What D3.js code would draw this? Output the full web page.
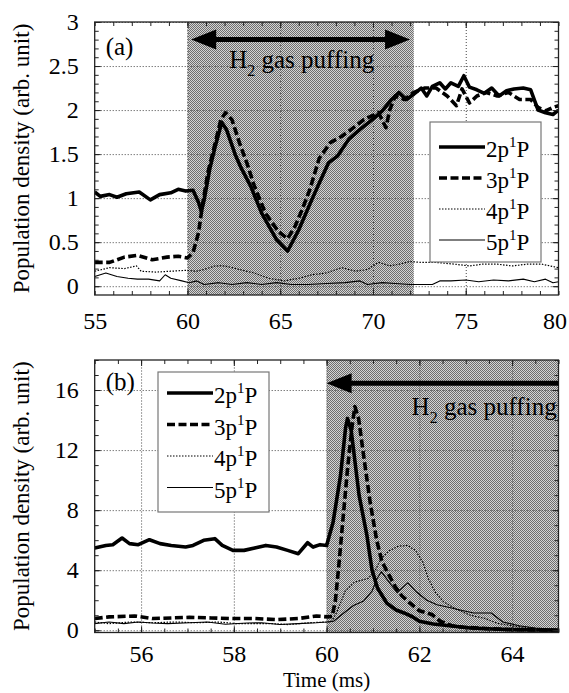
<!DOCTYPE html>
<html>
  <head>
    <meta charset="utf-8">
    <title>Population density</title>
    <script src="https://cdn.jsdelivr.net/npm/d3@7"></script>
    <style>
      body { margin: 0; background: #fff; }
      svg { display: block; }
      svg text { font-family: "Liberation Serif", "DejaVu Serif", "Times New Roman", serif; fill: #000; }
      .tick text { font-size: 24px; }
      .grid line { stroke: #444; stroke-dasharray: 1,2; stroke-width: 1; }
      .grid path, .ticks path { display: none; }
      .ticks line { stroke: #222; }
    </style>
  </head>
  <body>
    <svg id="chart" width="569" height="693"></svg>

    <script>
      // series names
      var levels = ["2p", "3p", "4p", "5p"];

      // panel (a): time (ms) and population density
      var aT2 = [55.0, 55.3, 55.8, 56.2, 56.7, 57.4, 58.0, 58.5, 59.1, 59.5, 59.9, 60.3, 60.6, 60.75, 60.9, 61.2, 61.5, 61.85, 62.1, 62.6, 62.9, 63.4, 64.0, 64.8, 65.4, 66.0, 66.7, 67.1, 67.6, 68.1, 68.7, 69.3, 69.9, 70.5, 71.0, 71.4, 71.8, 72.2, 72.6, 72.9, 73.2, 73.6, 73.9, 74.2, 74.6, 74.9, 75.2, 75.6, 76.0, 76.4, 76.8, 77.2, 77.6, 78.1, 78.5, 78.9, 79.3, 79.7, 80.0];
      var aV2 = [1.07, 1.02, 1.04, 1.01, 1.05, 1.07, 0.98, 1.04, 1.06, 1.10, 1.08, 1.09, 0.95, 0.85, 0.98, 1.33, 1.59, 1.86, 1.78, 1.48, 1.34, 1.14, 0.83, 0.53, 0.40, 0.64, 0.98, 1.17, 1.40, 1.48, 1.67, 1.78, 1.88, 1.99, 2.12, 2.20, 2.12, 2.18, 2.25, 2.16, 2.27, 2.31, 2.24, 2.31, 2.27, 2.39, 2.26, 2.23, 2.19, 2.25, 2.16, 2.22, 2.24, 2.25, 2.23, 2.00, 1.97, 1.95, 2.00];
      var aT3 = [55.0, 55.8, 56.6, 57.3, 58.1, 58.9, 59.5, 60.0, 60.3, 60.6, 60.8, 61.1, 61.5, 61.8, 62.05, 62.4, 62.8, 63.2, 63.6, 64.2, 64.9, 65.4, 65.8, 66.2, 66.6, 67.1, 67.7, 68.3, 68.7, 69.5, 70.3, 70.7, 70.9, 71.2, 71.7, 72.2, 72.8, 73.4, 74.0, 74.5, 74.8, 75.2, 75.6, 76.1, 76.7, 77.3, 77.9, 78.5, 78.9, 79.3, 79.7, 80.0];
      var aV3 = [0.27, 0.27, 0.33, 0.35, 0.30, 0.33, 0.34, 0.32, 0.38, 0.61, 0.91, 1.29, 1.63, 1.89, 1.97, 1.89, 1.63, 1.40, 1.14, 0.83, 0.62, 0.54, 0.68, 0.88, 1.10, 1.45, 1.63, 1.70, 1.76, 1.89, 1.97, 1.80, 2.00, 2.16, 2.12, 2.20, 2.25, 2.25, 2.16, 2.05, 2.24, 2.08, 2.16, 2.20, 2.16, 2.20, 2.12, 2.12, 2.03, 1.99, 2.03, 2.05];
      var aT4 = [55.0, 55.8, 56.6, 57.25, 57.5, 58.3, 59.1, 59.9, 60.5, 60.9, 61.5, 62.0, 62.8, 63.6, 64.4, 65.2, 66.0, 66.7, 67.5, 68.3, 69.1, 69.7, 70.3, 70.9, 71.4, 72.0, 72.6, 73.4, 74.4, 75.2, 75.9, 76.7, 77.5, 78.3, 79.1, 80.0];
      var aV4 = [0.17, 0.21, 0.20, 0.23, 0.17, 0.16, 0.17, 0.18, 0.17, 0.19, 0.23, 0.23, 0.19, 0.15, 0.09, 0.06, 0.09, 0.13, 0.15, 0.21, 0.17, 0.19, 0.27, 0.23, 0.25, 0.28, 0.27, 0.27, 0.25, 0.23, 0.25, 0.25, 0.23, 0.25, 0.25, 0.21];
      var aT5 = [55.0, 55.6, 56.2, 56.8, 57.3, 57.9, 58.5, 58.8, 59.1, 59.7, 60.1, 60.5, 60.9, 61.7, 62.4, 63.2, 64.0, 64.8, 65.6, 66.5, 67.5, 68.5, 69.3, 69.7, 70.5, 71.2, 72.0, 72.6, 73.2, 73.6, 74.2, 75.0, 75.7, 76.5, 77.3, 78.1, 78.7, 79.3, 79.7, 80.0];
      var aV5 = [0.11, 0.15, 0.11, 0.09, 0.08, 0.08, 0.06, 0.13, 0.09, 0.06, 0.04, 0.06, 0.02, 0.04, 0.02, 0.04, 0.02, 0.04, 0.02, 0.02, 0.03, 0.04, 0.06, 0.02, 0.04, 0.03, 0.02, 0.02, 0.02, 0.06, 0.06, 0.07, 0.05, 0.07, 0.06, 0.08, 0.05, 0.08, 0.04, 0.05];

      // panel (b)
      var bT2 = [55.0, 55.24, 55.39, 55.59, 55.75, 55.94, 56.18, 56.41, 56.65, 56.96, 57.12, 57.35, 57.59, 57.75, 57.98, 58.22, 58.45, 58.69, 58.92, 59.16, 59.39, 59.59, 59.71, 59.86, 60.0, 60.14, 60.3, 60.41, 60.45, 60.53, 60.7, 60.87, 60.98, 61.1, 61.3, 61.5, 61.67, 61.85, 62.0, 62.3, 62.8, 63.1, 63.6, 64.0, 65.0];
      var bV2 = [5.48, 5.65, 5.70, 6.14, 5.77, 5.70, 6.03, 5.77, 5.65, 5.54, 5.65, 5.99, 6.10, 5.65, 5.32, 5.32, 5.48, 5.65, 5.54, 5.32, 5.10, 5.83, 5.54, 5.70, 5.65, 7.2, 10.3, 13.5, 14.1, 13.3, 9.0, 6.3, 4.0, 2.8, 1.8, 1.35, 1.15, 0.9, 0.6, 0.42, 0.25, 0.15, 0.08, 0.04, 0.0];
      var bT3 = [55.0, 55.31, 55.86, 56.25, 56.65, 57.04, 57.51, 57.98, 58.45, 58.92, 59.39, 59.78, 60.02, 60.12, 60.19, 60.26, 60.33, 60.45, 60.55, 60.61, 60.69, 60.8, 60.94, 61.08, 61.19, 61.34, 61.48, 61.62, 61.8, 62.0, 62.27, 62.45, 62.7, 62.95, 63.4, 63.9, 64.4, 65.0];
      var bV3 = [0.78, 0.89, 0.95, 0.78, 0.82, 0.86, 0.82, 0.78, 0.78, 0.71, 0.78, 0.95, 0.89, 0.92, 2.0, 4.2, 6.6, 10.7, 13.6, 14.9, 14.1, 11.6, 8.5, 6.0, 4.6, 3.7, 2.9, 2.3, 1.8, 1.3, 1.05, 0.6, 0.3, 0.2, 0.12, 0.05, 0.02, 0.0];
      var bT4 = [55.0, 55.31, 55.78, 56.25, 56.73, 57.2, 57.67, 58.06, 58.45, 58.84, 59.16, 59.63, 60.02, 60.1, 60.22, 60.4, 60.6, 60.9, 61.05, 61.18, 61.35, 61.55, 61.75, 61.92, 62.08, 62.2, 62.35, 62.52, 62.8, 63.1, 63.4, 63.7, 64.1, 64.5, 65.0];
      var bV4 = [0.55, 0.44, 0.55, 0.50, 0.55, 0.50, 0.55, 0.44, 0.44, 0.44, 0.38, 0.50, 0.55, 0.55, 1.2, 2.6, 3.2, 3.45, 4.0, 4.8, 5.3, 5.6, 5.65, 5.3, 4.5, 3.4, 2.5, 1.9, 1.4, 1.0, 0.8, 0.45, 0.25, 0.12, 0.05];
      var bT5 = [55.0, 55.31, 55.63, 55.94, 56.25, 56.57, 57.04, 57.43, 57.82, 58.29, 58.6, 58.99, 59.39, 59.78, 60.0, 60.15, 60.37, 60.58, 60.8, 60.98, 61.08, 61.18, 61.3, 61.52, 61.75, 61.92, 62.16, 62.38, 62.6, 62.88, 63.17, 63.55, 63.8, 64.15, 64.5, 65.0];
      var bV5 = [0.44, 0.55, 0.44, 0.55, 0.48, 0.44, 0.50, 0.55, 0.40, 0.48, 0.50, 0.38, 0.44, 0.50, 0.55, 0.6, 1.15, 1.65, 1.95, 2.6, 3.4, 3.9, 3.4, 2.5, 3.15, 2.6, 2.0, 1.7, 1.55, 1.35, 1.15, 1.15, 0.55, 0.3, 0.15, 0.05];

      // tick values
      var aXTicks = [55, 60, 65, 70, 75, 80];
      var aYTicks = [0, 0.5, 1, 1.5, 2, 2.5, 3];
      var bXTicks = [56, 58, 60, 62, 64];
      var bYTicks = [0, 4, 8, 12, 16];

      var styles = {
        "2p": { width: 3.6, dash: null },
        "3p": { width: 3.6, dash: "8,3.5" },
        "4p": { width: 1.2, dash: "1.5,1.5" },
        "5p": { width: 1.1, dash: null }
      };

      svg = d3.select("#chart");
      svg.append("rect").attr("width", 569).attr("height", 693).attr("fill", "#fff");

      // halftone shading
      defs = svg.append("defs");
      pat = defs.append("pattern")
        .attr("id", "halftone")
        .attr("patternUnits", "userSpaceOnUse")
        .attr("width", 2).attr("height", 2);
      pat.append("rect").attr("width", 2).attr("height", 2).attr("fill", "#d4d4d4");
      pat.append("rect").attr("x", 0).attr("y", 0).attr("width", 1).attr("height", 1).attr("fill", "#6e6e6e");
      pat.append("rect").attr("x", 1).attr("y", 1).attr("width", 1).attr("height", 1).attr("fill", "#6e6e6e");

      function drawPanel(p) {
        x = d3.scaleLinear().domain(p.xDomain).range([p.left, p.right]);
        y = d3.scaleLinear().domain(p.yDomain).range([p.bottom, p.top]);
        g = svg.append("g");
        w = p.right - p.left;
        h = p.bottom - p.top;

        defs.append("clipPath").attr("id", "clip" + p.id)
          .append("rect").attr("x", p.left).attr("y", p.top).attr("width", w).attr("height", h);

        // shaded gas puffing window
        g.append("rect")
          .attr("x", x(p.shade[0]))
          .attr("y", p.top)
          .attr("width", x(p.shade[1]) - x(p.shade[0]))
          .attr("height", h)
          .attr("fill", "url(#halftone)");

        // dotted grid
        g.append("g").attr("class", "grid")
          .attr("transform", "translate(0," + p.bottom + ")")
          .call(d3.axisBottom(x).tickValues(p.xTicks).tickSize(-h).tickFormat(""));
        g.append("g").attr("class", "grid")
          .attr("transform", "translate(" + p.left + ",0)")
          .call(d3.axisLeft(y).tickValues(p.yTicks).tickSize(-w).tickFormat(""));

        // series
        line = d3.line()
          .x(function(d) { return x(d[0]); })
          .y(function(d) { return y(d[1]); });
        p.series.forEach(function(s) {
          g.append("path")
            .datum(d3.zip(s.t, s.v))
            .attr("clip-path", "url(#clip" + p.id + ")")
            .attr("fill", "none")
            .attr("stroke", "#000")
            .attr("stroke-width", styles[s.name].width)
            .attr("stroke-dasharray", styles[s.name].dash)
            .attr("stroke-linejoin", "round")
            .attr("d", line);
        });

        // inward ticks on all four sides
        minorX = d3.range(p.xDomain[0], p.xDomain[1] + 1e-9, p.xMinor);
        minorY = d3.range(p.yMinorStart, p.yDomain[1] + 1e-9, p.yMinor);
        [[d3.axisBottom, p.bottom], [d3.axisTop, p.top]].forEach(function(a) {
          g.append("g").attr("class", "ticks")
            .attr("transform", "translate(0," + a[1] + ")")
            .call(a[0](x).tickValues(minorX).tickSize(-4).tickFormat(""));
          g.append("g").attr("class", "ticks")
            .attr("transform", "translate(0," + a[1] + ")")
            .call(a[0](x).tickValues(p.xTicks).tickSize(-6).tickFormat(""));
        });
        [[d3.axisLeft, p.left], [d3.axisRight, p.right]].forEach(function(a) {
          g.append("g").attr("class", "ticks")
            .attr("transform", "translate(" + a[1] + ",0)")
            .call(a[0](y).tickValues(minorY).tickSize(-4).tickFormat(""));
          g.append("g").attr("class", "ticks")
            .attr("transform", "translate(" + a[1] + ",0)")
            .call(a[0](y).tickValues(p.yTicks).tickSize(-6).tickFormat(""));
        });

        // tick labels
        xl = g.append("g")
          .attr("transform", "translate(0," + p.bottom + ")")
          .call(d3.axisBottom(x).tickValues(p.xLabels).tickSize(0).tickPadding(p.xPad).tickFormat(String));
        xl.select(".domain").remove();
        xl.attr("font-family", null).attr("font-size", null);
        // keep the last label inside the picture
        xl.selectAll(".tick text").filter(function(d) { return d === p.xDomain[1]; }).attr("dx", -4);
        yl = g.append("g")
          .attr("transform", "translate(" + p.left + ",0)")
          .call(d3.axisLeft(y).tickValues(p.yTicks).tickSize(0).tickPadding(16).tickFormat(String));
        yl.select(".domain").remove();
        yl.attr("font-family", null).attr("font-size", null);

        // frame
        g.append("rect")
          .attr("x", p.left).attr("y", p.top)
          .attr("width", w).attr("height", h)
          .attr("fill", "none").attr("stroke", "#222").attr("stroke-width", 1.3);

        // y label
        g.append("text")
          .attr("transform", "translate(29," + (p.top + h / 2) + ") rotate(-90)")
          .attr("text-anchor", "middle")
          .attr("font-size", 23)
          .text("Population density (arb. unit)");

        // panel letter
        g.append("text")
          .attr("x", p.left + 11).attr("y", p.letterY)
          .attr("font-size", 25)
          .text(p.letter);

        // arrow
        ay = y(p.arrow.v);
        x0 = x(p.arrow.from);
        x1 = x(p.arrow.to);
        g.append("line")
          .attr("x1", x0 + (p.arrow.heads[0] ? 20 : 0)).attr("x2", x1 - (p.arrow.heads[1] ? 20 : 0))
          .attr("y1", ay).attr("y2", ay)
          .attr("stroke", "#000").attr("stroke-width", 5);
        if (p.arrow.heads[0]) {
          g.append("path").attr("d", "M" + x0 + "," + ay + "L" + (x0 + 25) + "," + (ay - 10) + "L" + (x0 + 25) + "," + (ay + 10) + "Z");
        }
        if (p.arrow.heads[1]) {
          g.append("path").attr("d", "M" + x1 + "," + ay + "L" + (x1 - 25) + "," + (ay - 10) + "L" + (x1 - 25) + "," + (ay + 10) + "Z");
        }

        // gas puffing label
        lab = g.append("text")
          .attr("x", x(p.label.t)).attr("y", y(p.label.v))
          .attr("text-anchor", p.label.anchor)
          .attr("font-size", 25);
        lab.append("tspan").text("H");
        lab.append("tspan").attr("dy", 8).attr("font-size", 16).text("2");
        lab.append("tspan").attr("dy", -8).text(" gas puffing");

        // legend
        lg = g.append("g").attr("transform", "translate(" + p.legend.x + "," + p.legend.y + ")");
        lg.append("rect")
          .attr("width", p.legend.w).attr("height", p.legend.h)
          .attr("fill", "#fff").attr("stroke", "#777").attr("stroke-width", 1.2);
        levels.forEach(function(name, i) {
          ry = p.legend.row0 + i * p.legend.step;
          lg.append("line")
            .attr("x1", 9).attr("x2", 55)
            .attr("y1", ry).attr("y2", ry)
            .attr("stroke", "#000")
            .attr("stroke-width", styles[name].width)
            .attr("stroke-dasharray", styles[name].dash);
          t = lg.append("text").attr("x", 56).attr("y", ry + 10).attr("font-size", 23);
          t.append("tspan").text(name);
          t.append("tspan").attr("dy", -10).attr("font-size", 15).text("1");
          t.append("tspan").attr("dy", 10).text("P");
        });
      }

      drawPanel({
        id: "a", letter: "(a)", letterY: 55,
        left: 94.7, right: 558.5, top: 22, bottom: 295,
        xDomain: [55, 80], yDomain: [-0.1, 3],
        xTicks: [60, 65, 70, 75], xLabels: aXTicks, yTicks: aYTicks,
        xMinor: 1, yMinor: 0.1, yMinorStart: 0, xPad: 17,
        shade: [60, 72.2],
        arrow: { from: 60.2, to: 72.0, v: 2.80, heads: [true, true] },
        label: { t: 62.25, v: 2.48, anchor: "start" },
        legend: { x: 430, y: 122, w: 111, h: 140, row0: 25, step: 31 },
        series: [
          { name: "2p", t: aT2, v: aV2 },
          { name: "3p", t: aT3, v: aV3 },
          { name: "4p", t: aT4, v: aV4 },
          { name: "5p", t: aT5, v: aV5 }
        ]
      });

      drawPanel({
        id: "b", letter: "(b)", letterY: 390,
        left: 94.7, right: 558.5, top: 360, bottom: 632.5,
        xDomain: [55, 65], yDomain: [-0.15, 18],
        xTicks: bXTicks, xLabels: bXTicks, yTicks: bYTicks,
        xMinor: 0.5, yMinor: 1, yMinorStart: 0, xPad: 12,
        shade: [60, 65],
        arrow: { from: 60.0, to: 65, v: 16.45, heads: [true, false] },
        label: { t: 64.96, v: 14.34, anchor: "end" },
        legend: { x: 158, y: 372, w: 111, h: 140, row0: 21, step: 31.5 },
        series: [
          { name: "2p", t: bT2, v: bV2 },
          { name: "3p", t: bT3, v: bV3 },
          { name: "4p", t: bT4, v: bV4 },
          { name: "5p", t: bT5, v: bV5 }
        ]
      });

      svg.append("text")
        .attr("x", (94.7 + 558.5) / 2).attr("y", 687)
        .attr("text-anchor", "middle")
        .attr("font-size", 21)
        .text("Time (ms)");
    </script>
  </body>
</html>
